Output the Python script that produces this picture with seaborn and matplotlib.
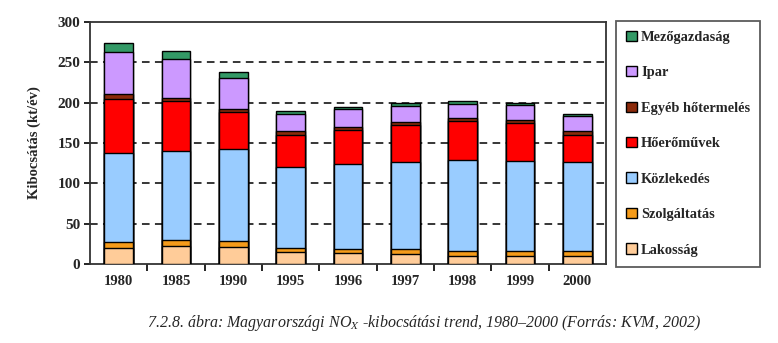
import numpy as np
import pandas as pd
import matplotlib
matplotlib.use("Agg")
import matplotlib.pyplot as plt
from matplotlib.patches import Patch
import seaborn as sns

years = ["1980", "1985", "1990", "1995", "1996", "1997", "1998", "1999", "2000"]
lakossag = [19.5, 22, 20.5, 14.5, 14, 12.5, 10.5, 10.5, 10.5]
szolgaltatas = [7.5, 8, 7.5, 5, 5, 5.5, 5.5, 5.5, 5.5]
kozlekedes = [110, 110, 114.5, 100.5, 105.5, 108.5, 113.5, 112, 110]
hoeromuvek = [68, 62, 45.5, 40, 41, 46, 47.5, 46.5, 34.5]
egyeb = [5.5, 3.5, 4, 4.5, 4, 3.5, 3.5, 3.5, 4]
ipar = [52, 49, 39, 21.5, 23, 20, 18, 19, 18.5]
mezogazdasag = [11, 9, 7, 4, 2.5, 3, 3.5, 2.5, 3]

series_names = ["Lakosság", "Szolgáltatás", "Közlekedés", "Hőerőművek",
                "Egyéb hőtermelés", "Ipar", "Mezőgazdaság"]
series_vals = [lakossag, szolgaltatas, kozlekedes, hoeromuvek, egyeb, ipar, mezogazdasag]
colors = ["#FFCC99", "#F59B1A", "#99CCFF", "#FF0000", "#8B2A0A", "#CC99FF", "#339966"]

sns.set_style("white")
plt.rcParams["font.family"] = ["Liberation Serif", "DejaVu Serif"]
plt.rcParams["mathtext.fontset"] = "stix"

fig = plt.figure(figsize=(7.78, 3.43), dpi=100)
ax = fig.add_axes([0.1157, 0.2303, 0.663, 0.7056])

cum = np.cumsum(np.array(series_vals), axis=0)
df = pd.DataFrame({"year": years})
for i in reversed(range(len(series_names))):
    df["v"] = cum[i]
    sns.barplot(data=df, x="year", y="v", order=years, color=colors[i],
                edgecolor="black", linewidth=1.0, width=0.5, saturation=1,
                ax=ax, zorder=3)

ax.set_ylim(0, 300)
ax.set_xlim(-0.5, len(years) - 0.5)
ax.set_yticks([0, 50, 100, 150, 200, 250, 300])
for yv in [50, 100, 150, 200, 250]:
    ax.axhline(yv, color="black", lw=1.1, ls=(0, (5, 3.5)), zorder=1)

ax.set_xlabel("")
ax.set_ylabel("Kibocsátás (kt/év)", fontsize=10.5, fontweight="bold", labelpad=12)
ax.set_xticks(range(len(years)))
ax.set_xticklabels(years, fontsize=10.5, fontweight="bold")
ax.set_xticks(np.arange(len(years) - 1) + 0.5, minor=True)
ax.tick_params(axis="x", which="major", length=0, pad=8)
ax.tick_params(axis="x", which="minor", length=5, width=1.2, color="black", direction="out", bottom=True)
ax.tick_params(axis="y", length=4, width=1.2, color="black", direction="out", left=True, pad=3)
for lab in ax.get_yticklabels():
    lab.set_fontsize(11)
    lab.set_fontweight("bold")
for sp in ax.spines.values():
    sp.set_color("#333333")
    sp.set_linewidth(1.3)

handles = [Patch(facecolor=colors[i], edgecolor="black", linewidth=1.0, label=series_names[i])
           for i in reversed(range(len(series_names)))]
leg = fig.legend(handles=handles, loc="upper left",
                 bbox_to_anchor=(0.792, 0.94), bbox_transform=fig.transFigure,
                 frameon=True, fancybox=False, edgecolor="#333333",
                 prop={"family": "Liberation Serif", "weight": "bold", "size": 10.4},
                 handlelength=0.72, handleheight=0.72, handletextpad=0.3,
                 labelspacing=1.54, borderpad=0.7, borderaxespad=0)
leg.get_frame().set_linewidth(1.3)

fig.text(0.545, 0.058,
         "7.2.8. ábra: Magyarországi NO$_X$ -kibocsátási trend, 1980–2000 (Forrás: KVM, 2002)",
         ha="center", va="center", fontsize=11.5, fontstyle="italic")

fig.savefig("out.png", dpi=100)
